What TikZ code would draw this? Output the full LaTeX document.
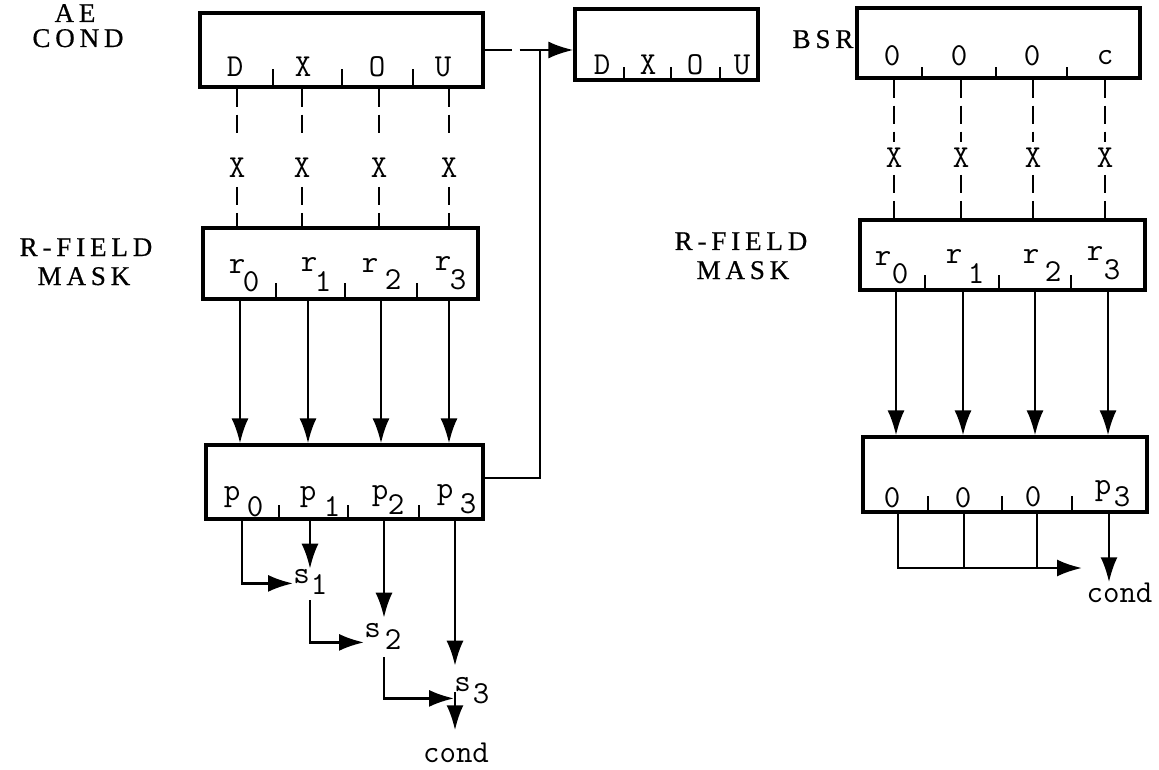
\documentclass[tikz,border=0pt]{standalone}
\usepackage{fontspec}
\newfontfamily\lblfont[LetterSpace=18,FakeBold=0.6]{Liberation Serif}
\usetikzlibrary{arrows.meta,calc}
\begin{document}
\begin{tikzpicture}[x=1pt,y=-1pt,
  box/.style={draw, line width=3.2pt, inner sep=0pt},
  tickmark/.style={line width=2.6pt},
  txt/.style={inner sep=0pt, anchor=base, font=\fontsize{32}{34}\selectfont\ttfamily\addfontfeatures{FakeBold=1.2}},
  xlbl/.style={inner sep=0pt, anchor=center, font=\fontsize{32}{34}\selectfont\ttfamily\addfontfeatures{FakeBold=1.2}},
  lbl/.style={inner sep=0pt, anchor=base, font=\fontsize{27}{29}\selectfont\lblfont},
  conn/.style={line width=2.5pt},
  dline/.style={line width=2.5pt, dash pattern=on 18pt off 8pt},
  arr/.style={line width=2.5pt, -{Latex[length=25pt,width=17pt]}}]
\useasboundingbox (0,0) rectangle (1159,770);

% boxes
\node[box, minimum width=283pt, minimum height=74pt] (ae) at (341.5,50) {};
\node[box, minimum width=183pt, minimum height=71pt] (dxou) at (666.5,44.5) {};
\node[box, minimum width=283pt, minimum height=70pt] (bsr) at (998.5,43) {};
\node[box, minimum width=275pt, minimum height=71pt] (ra) at (340.5,263.5) {};
\node[box, minimum width=277pt, minimum height=74pt] (pa) at (344.5,482) {};
\node[box, minimum width=285pt, minimum height=70pt] (rb) at (1002.5,255) {};
\node[box, minimum width=284pt, minimum height=75pt] (pb) at (1005,474.5) {};

% ticks
\foreach \t in {273,342,413} \draw[tickmark] (\t,87) -- (\t,69);
\foreach \t in {624,671,720} \draw[tickmark] (\t,80) -- (\t,67);
\foreach \t in {922,996,1067} \draw[tickmark] (\t,78) -- (\t,67);
\foreach \t in {276,345,417} \draw[tickmark] (\t,299) -- (\t,283);
\foreach \t in {279,348,419} \draw[tickmark] (\t,519) -- (\t,505);
\foreach \t in {925,999,1071} \draw[tickmark] (\t,290) -- (\t,275);
\foreach \t in {928,1002,1072} \draw[tickmark] (\t,512) -- (\t,496);

% side labels
\node[lbl] (lae) at (75,22) {AE};
\node[lbl] (lcond) at (78,47) {COND};
\node[lbl] (lrf1) at (86,256) {R-FIELD};
\node[lbl] (lmk1) at (84,285) {MASK};
\node[lbl] (lrf2) at (741,250) {R-FIELD};
\node[lbl] (lmk2) at (743,279) {MASK};
\node[lbl] (lbsr) at (823,48) {BSR};

% box texts
\node[txt] (aeD) at (235,77) {D};
\node[txt] (aeX) at (303,77) {X};
\node[txt] (aeO) at (377,77) {O};
\node[txt] (aeU) at (443,77) {U};
\node[txt] (dD) at (602,75) {D};
\node[txt] (dX) at (648,75) {X};
\node[txt] (dO) at (695,75) {O};
\node[txt] (dU) at (742,75) {U};
\node[txt] (b0) at (892,66) {0};
\node[txt] (b1) at (959,66) {0};
\node[txt] (b2) at (1032,66) {0};
\node[txt] (b3) at (1105,65) {c};

\node[txt] (ra0) at (237,273) {r}; \node[txt] (ra0s) at (251,291) {0};
\node[txt] (ra1) at (309,271) {r}; \node[txt] (ra1s) at (323,291) {1};
\node[txt] (ra2) at (370,272) {r}; \node[txt] (ra2s) at (393,289) {2};
\node[txt] (ra3) at (443,270) {r}; \node[txt] (ra3s) at (458,289) {3};

\node[txt] (pa0) at (232,500) {p}; \node[txt] (pa0s) at (255,516) {0};
\node[txt] (pa1) at (308,500) {p}; \node[txt] (pa1s) at (332,516) {1};
\node[txt] (pa2) at (380,499) {p}; \node[txt] (pa2s) at (396,514) {2};
\node[txt] (pa3) at (445,498) {p}; \node[txt] (pa3s) at (468,513) {3};

\node[txt] (rb0) at (883,265) {r}; \node[txt] (rb0s) at (900,283) {0};
\node[txt] (rb1) at (954,263) {r}; \node[txt] (rb1s) at (976,283) {1};
\node[txt] (rb2) at (1031,263) {r}; \node[txt] (rb2s) at (1053,281) {2};
\node[txt] (rb3) at (1095,260) {r}; \node[txt] (rb3s) at (1112,279) {3};

\node[txt] (pb0) at (892,507) {0};
\node[txt] (pb1) at (963,507) {0};
\node[txt] (pb2) at (1033,506) {0};
\node[txt] (pb3) at (1103,494) {p}; \node[txt] (pb3s) at (1122,506) {3};

% s labels and cond
\node[txt] (s1) at (301.5,583) {s}; \node[txt] (s1s) at (319,594) {1};
\node[txt] (s2) at (372.5,637) {s}; \node[txt] (s2s) at (393,649) {2};
\node[txt] (s3) at (462.5,691) {s}; \node[txt] (s3s) at (481,703) {3};
\node[txt] (condL) at (456,762) {cond};
\node[txt] (condR) at (1119.5,602) {cond};

% X nodes
\node[xlbl] (x1) at (237,168) {X};
\node[xlbl] (x2) at (302,168) {X};
\node[xlbl] (x3) at (379,168) {X};
\node[xlbl] (x4) at (449,168) {X};
\node[xlbl] (y1) at (894,158) {X};
\node[xlbl] (y2) at (961,158) {X};
\node[xlbl] (y3) at (1033,158) {X};
\node[xlbl] (y4) at (1105,158) {X};

% dashed column lines
\foreach \n in {x1,x2,x3,x4}{
  \draw[dline, shorten >=24pt] (\n |- ae.south) -- (\n.north);
  \draw[dline, shorten <=9pt] (\n.south) -- (\n |- ra.north);
}
\foreach \n in {y1,y2,y3,y4}{
  \draw[dline, shorten >=6pt] (\n |- bsr.south) -- (\n.north);
  \draw[dline, shorten <=7pt] (\n.south) -- (\n |- rb.north);
}

% column coordinates
\coordinate (L1) at (240,0); \coordinate (L2) at (308,0);
\coordinate (L3) at (381,0); \coordinate (L4) at (449,0);
\coordinate (R1) at (896,0); \coordinate (R2) at (963,0);
\coordinate (R3) at (1035,0); \coordinate (R4) at (1108,0);
\coordinate (P0) at (242,0); \coordinate (P1) at (310,0);
\coordinate (P2) at (384,0); \coordinate (P3) at (455,0);
\coordinate (Q1) at (898,0); \coordinate (Q2) at (964,0);
\coordinate (Q3) at (1037,0); \coordinate (Q4) at (1109,0);
\coordinate (J) at (540,50);
\coordinate (M) at (1082,568);

% mask to p arrows
\foreach \c in {L1,L2,L3,L4} \draw[arr] (\c |- ra.south) -- (\c |- pa.north);
\foreach \c in {R1,R2,R3,R4} \draw[arr] (\c |- rb.south) -- (\c |- pb.north);

% top connections
\draw[arr, dash pattern=on 27pt off 8pt on 300pt off 1pt] (ae.east) -- (ae.east -| dxou.west);
\draw[conn] ([yshift=4pt]pa.east) -| (J);

% left bottom network
\draw[arr] (P0 |- pa.south) |- (s1.south west);
\draw[arr] (P1 |- pa.south) -- (P1 |- s1.north);
\draw[arr, shorten <=17pt] (P1 |- s1.south) |- ([yshift=-5pt]s2.south west);
\draw[arr, shorten >=5pt] (P2 |- pa.south) -- (P2 |- s2.north);
\draw[arr, shorten <=20pt] (P2 |- s2.south) |- ([yshift=-7pt]s3.south west);
\draw[arr, shorten >=11pt] (P3 |- pa.south) -- (P3 |- s3.north);
\draw[arr, shorten <=1pt, shorten >=12pt] (P3 |- s3.south) -- (P3 |- condL.north);

% right bottom network
\draw[arr] (Q1 |- pb.south) |- (M);
\draw[conn] (Q2 |- pb.south) -- (Q2 |- M);
\draw[conn] (Q3 |- pb.south) -- (Q3 |- M);
\draw[arr] (Q4 |- pb.south) -- (Q4 |- condR.north);
\end{tikzpicture}
\end{document}
